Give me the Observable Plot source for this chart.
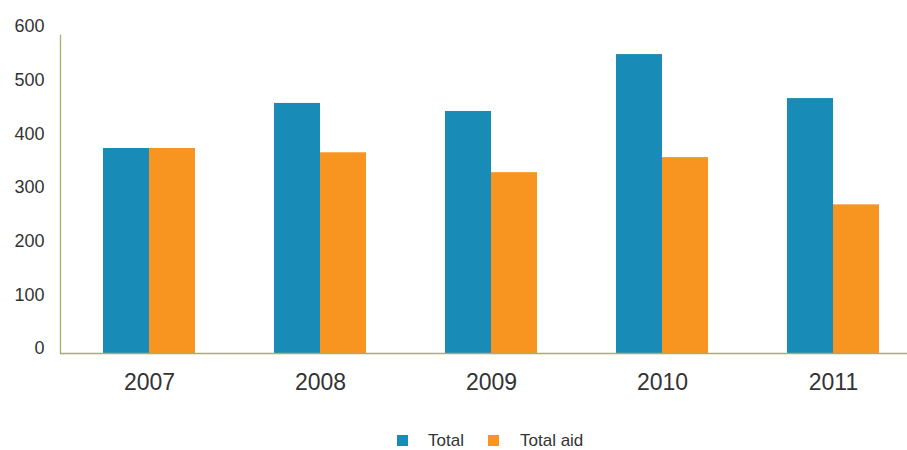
<!DOCTYPE html>
<html>
<head>
<meta charset="utf-8">
<script src="https://cdn.jsdelivr.net/npm/d3@7"></script>
<script src="https://cdn.jsdelivr.net/npm/@observablehq/plot@0.6"></script>
<style>
  body { margin: 0; background: #fff; font-family: "Liberation Sans", Arial, sans-serif; }
  #chart svg { display: block; }
  .legend { display: flex; align-items: center; height: 17px; margin-top: 2px; font-size: 17px; color: #333; line-height: 17px; }
  .sw { display: inline-block; width: 11px; height: 11px; }
</style>
</head>
<body>
<div id="chart"></div>
<div class="legend" id="legend"></div>
<script>
const years = ["2007", "2008", "2009", "2010", "2011"];
const totalValues = [382, 466, 451, 557, 475];
const aidValues = [382, 374, 337, 365, 277];
const yTicks = [0, 100, 200, 300, 400, 500, 600];
const seriesNames = ["Total", "Total aid"];
const seriesColors = ["#188bb6", "#f79520"];

const totalData = years.map((y, i) => ({year: y, value: totalValues[i]}));
const aidData = years.map((y, i) => ({year: y, value: aidValues[i]}));

const axisColor = "#a9ac6b";
const W = 907, H = 430;

const chart = Plot.plot({
  width: W,
  height: H,
  marginLeft: 60,
  marginRight: 0,
  marginTop: 35,
  marginBottom: H - 353,
  style: { fontFamily: "'Liberation Sans', Arial, sans-serif", color: "#333" },
  x: { type: "band", domain: years, range: [62, 919.5], paddingInner: 0.4636, paddingOuter: 0.2318, label: null },
  y: { domain: [0, 600], range: [353, 31], label: null },
  marks: [
    Plot.barY(totalData, { x: "year", y: "value", fill: seriesColors[0], insetLeft: 0, insetRight: 46 }),
    Plot.barY(aidData, { x: "year", y: "value", fill: seriesColors[1], insetLeft: 46, insetRight: 0 }),
    Plot.frame({ anchor: "left", stroke: axisColor, strokeWidth: 1.3, strokeOpacity: 1 }),
    Plot.ruleY([0], { stroke: axisColor, strokeWidth: 1.3 }),
    Plot.axisY(yTicks, { tickSize: 0, tickPadding: 16, fontSize: 18, dy: -5, fill: "#333", label: null }),
    Plot.axisX({ tickSize: 0, tickPadding: 20, fontSize: 23, fill: "#333", label: null })
  ]
});
document.getElementById("chart").appendChild(chart);

const legend = document.getElementById("legend");
const offsets = [397, 488];
const textGaps = [20, 21];
let html = "";
seriesNames.forEach((name, i) => {
  html += `<span style="position:absolute;left:${offsets[i]}px;display:flex;align-items:center;"><span class="sw" style="background:${seriesColors[i]}"></span><span style="margin-left:${textGaps[i]}px">${name}</span></span>`;
});
legend.innerHTML = html;
</script>
</body>
</html>
